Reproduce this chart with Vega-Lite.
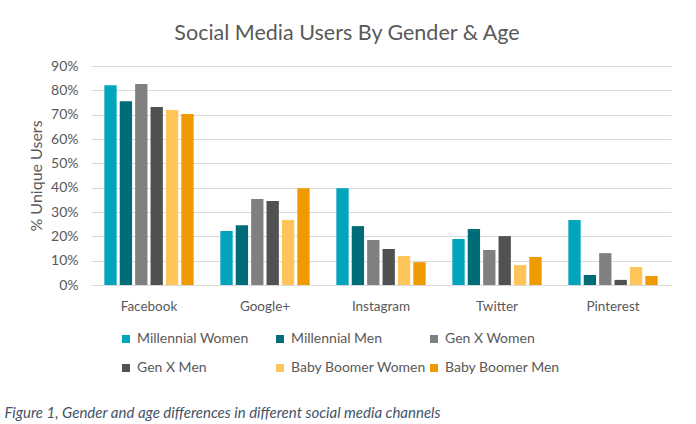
{
  "$schema": "https://vega.github.io/schema/vega-lite/v6.json",
  "width": 580,
  "height": 219,
  "autosize": "none",
  "padding": {"left": 91, "top": 66, "right": 25, "bottom": 139},
  "background": "white",
  "title": {
    "text": "Social Media Users By Gender & Age",
    "font": "Lato",
    "fontSize": 21.5,
    "fontWeight": "normal",
    "color": "#595959",
    "anchor": "middle",
    "dx": -34,
    "offset": 15
  },
  "data": {
    "values": [
      {"platform": "Facebook", "group": "Millennial Women", "value": 0.821},
      {"platform": "Facebook", "group": "Millennial Men", "value": 0.755},
      {"platform": "Facebook", "group": "Gen X Women", "value": 0.826},
      {"platform": "Facebook", "group": "Gen X  Men", "value": 0.731},
      {"platform": "Facebook", "group": "Baby Boomer Women", "value": 0.719},
      {"platform": "Facebook", "group": "Baby Boomer Men", "value": 0.703},
      {"platform": "Google+", "group": "Millennial Women", "value": 0.222},
      {"platform": "Google+", "group": "Millennial Men", "value": 0.246},
      {"platform": "Google+", "group": "Gen X Women", "value": 0.353},
      {"platform": "Google+", "group": "Gen X  Men", "value": 0.345},
      {"platform": "Google+", "group": "Baby Boomer Women", "value": 0.267},
      {"platform": "Google+", "group": "Baby Boomer Men", "value": 0.398},
      {"platform": "Instagram", "group": "Millennial Women", "value": 0.398},
      {"platform": "Instagram", "group": "Millennial Men", "value": 0.242},
      {"platform": "Instagram", "group": "Gen X Women", "value": 0.185},
      {"platform": "Instagram", "group": "Gen X  Men", "value": 0.148},
      {"platform": "Instagram", "group": "Baby Boomer Women", "value": 0.119},
      {"platform": "Instagram", "group": "Baby Boomer Men", "value": 0.094},
      {"platform": "Twitter", "group": "Millennial Women", "value": 0.189},
      {"platform": "Twitter", "group": "Millennial Men", "value": 0.23},
      {"platform": "Twitter", "group": "Gen X Women", "value": 0.144},
      {"platform": "Twitter", "group": "Gen X  Men", "value": 0.201},
      {"platform": "Twitter", "group": "Baby Boomer Women", "value": 0.082},
      {"platform": "Twitter", "group": "Baby Boomer Men", "value": 0.115},
      {"platform": "Pinterest", "group": "Millennial Women", "value": 0.267},
      {"platform": "Pinterest", "group": "Millennial Men", "value": 0.041},
      {"platform": "Pinterest", "group": "Gen X Women", "value": 0.131},
      {"platform": "Pinterest", "group": "Gen X  Men", "value": 0.021},
      {"platform": "Pinterest", "group": "Baby Boomer Women", "value": 0.074},
      {"platform": "Pinterest", "group": "Baby Boomer Men", "value": 0.037}
    ]
  },
  "mark": {"type": "bar"},
  "encoding": {
    "x": {
      "field": "platform",
      "type": "nominal",
      "sort": ["Facebook", "Google+", "Instagram", "Twitter", "Pinterest"],
      "scale": {"paddingInner": 0.23, "paddingOuter": 0.115},
      "axis": {
        "title": "Figure 1, Gender and age differences in different social media channels",
        "titleFont": "Lato",
        "titleFontSize": 15,
        "titleFontStyle": "italic",
        "titleFontWeight": "normal",
        "titleColor": "#44546A",
        "titleAnchor": "start",
        "titleAlign": "left",
        "titleBaseline": "alphabetic",
        "titleX": -87,
        "titleY": 132,
        "labelAngle": 0,
        "labelFont": "Lato",
        "labelFontSize": 13.5,
        "labelColor": "#595959",
        "labelPadding": 14,
        "ticks": false,
        "domain": true,
        "domainColor": "#D9D9D9",
        "grid": false
      }
    },
    "xOffset": {
      "field": "group",
      "type": "nominal",
      "sort": ["Millennial Women", "Millennial Men", "Gen X Women", "Gen X  Men", "Baby Boomer Women", "Baby Boomer Men"],
      "scale": {"paddingInner": 0.2, "paddingOuter": 0}
    },
    "y": {
      "field": "value",
      "type": "quantitative",
      "scale": {"domain": [0, 0.9], "nice": false},
      "axis": {
        "title": "% Unique Users",
        "titleFont": "Lato",
        "titleFontSize": 16,
        "titleFontWeight": "normal",
        "titleColor": "#595959",
        "titlePadding": 6,
        "format": ".0%",
        "values": [0, 0.1, 0.2, 0.3, 0.4, 0.5, 0.6, 0.7, 0.8, 0.9],
        "labelFont": "Lato",
        "labelFontSize": 14,
        "labelColor": "#595959",
        "labelPadding": 13,
        "ticks": false,
        "domain": false,
        "grid": true,
        "gridColor": "#D9D9D9",
        "gridWidth": 1
      }
    },
    "color": {
      "field": "group",
      "type": "nominal",
      "sort": ["Millennial Women", "Millennial Men", "Gen X Women", "Gen X  Men", "Baby Boomer Women", "Baby Boomer Men"],
      "scale": {
        "domain": ["Millennial Women", "Millennial Men", "Gen X Women", "Gen X  Men", "Baby Boomer Women", "Baby Boomer Men"],
        "range": ["#00A4BB", "#006C78", "#808080", "#515151", "#FFC45A", "#EE9A00"]
      },
      "legend": {
        "title": null,
        "orient": "none",
        "legendX": 28,
        "legendY": 266,
        "padding": 0,
        "direction": "horizontal",
        "columns": 3,
        "gridAlign": "all",
        "columnPadding": -1,
        "rowPadding": 15,
        "symbolType": "square",
        "symbolSize": 64,
        "symbolStrokeWidth": 0,
        "labelFont": "Lato",
        "labelFontSize": 14,
        "labelColor": "#595959",
        "labelOffset": 4,
        "labelLimit": 200
      }
    }
  },
  "config": {
    "view": {"stroke": null}
  }
}
